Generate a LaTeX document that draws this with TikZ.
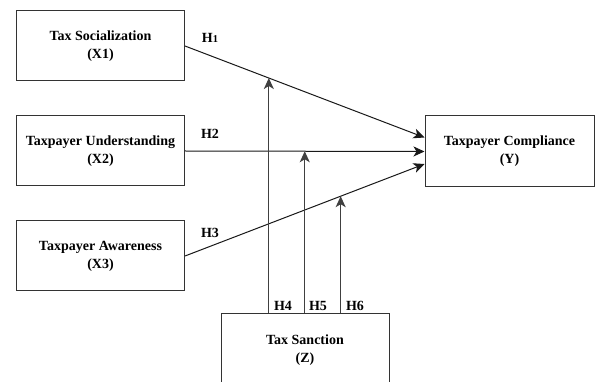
\documentclass[tikz,border=0pt]{standalone}
\usepackage{fontspec}
\setmainfont{Liberation Serif}
\usetikzlibrary{arrows.meta,calc}
\begin{document}
\begin{tikzpicture}[x=1pt,y=-1pt,
  box/.style={draw=black!80,line width=1pt,rectangle,minimum width=168pt,minimum height=70pt,inner sep=0pt,align=center,font=\fontsize{14}{18}\selectfont\bfseries},
  hlab/.style={font=\fontsize{14}{16}\selectfont\bfseries,inner sep=0pt},
  arr/.style={draw=black!90,line width=1pt,-{Stealth[length=11pt,width=10pt,inset=3pt]}},
  varr/.style={draw=black!75,line width=1.2pt,-{Stealth[length=11pt,width=10pt,inset=3pt]}}]
\useasboundingbox[fill=white] (0,0) rectangle (595,382);
\node[box] (X1) at (100.5,46) {Tax Socialization\\(X1)};
\node[box] (X2) at (100.5,151) {Taxpayer Understanding\\(X2)};
\node[box] (X3) at (100.5,256) {Taxpayer Awareness\\(X3)};
\node[box,minimum width=169pt,minimum height=71pt] (Y) at (509.5,151.5) {Taxpayer Compliance\\(Y)};
\node[box,minimum height=72pt] (Z) at (305,350) {Tax Sanction\\(Z)};
\coordinate (Y1) at ([yshift=14pt]Y.west);
\coordinate (Y3) at ([yshift=-12.5pt]Y.west);
\draw[arr] (X1.east) -- (Y1);
\draw[arr] (X2.east) -- (Y.west);
\draw[arr] (X3.east) -- (Y3);
\coordinate (m4) at ($(X1.east)!0.35!(Y1)$);
\coordinate (m5) at ($(X2.east)!0.5!(Y.west)$);
\coordinate (m6) at ($(X3.east)!0.65!(Y3)$);
\draw[varr] (Z.north -| m4) -- (m4);
\draw[varr] (Z.north -| m5) -- (m5);
\draw[varr] (Z.north -| m6) -- (m6);
\node[hlab] (h1) at (210,38) {H{\fontsize{10.5}{12}\selectfont 1}};
\node[hlab] (h2) at (210,134) {H2};
\node[hlab] (h3) at (210,233) {H3};
\node[hlab] (h4) at (283,306) {H4};
\node[hlab] (h5) at (318,306) {H5};
\node[hlab] (h6) at (355,306) {H6};
\end{tikzpicture}
\end{document}
